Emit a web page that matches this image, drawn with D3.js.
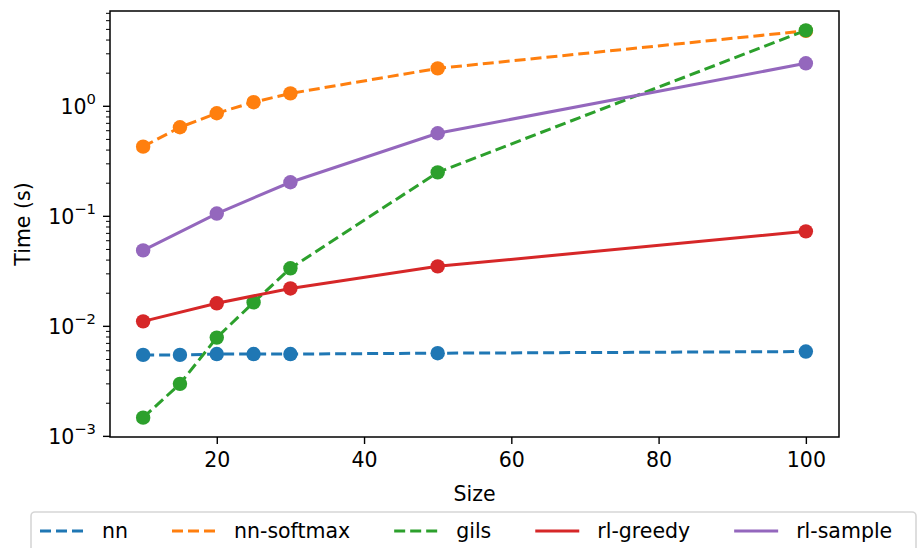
<!DOCTYPE html>
<html>
  <head>
    <meta charset="utf-8">
    <style>
    body { margin: 0; background: #fff; }
    svg { display: block; font-family: "DejaVu Sans", sans-serif; }
    </style>
  </head>
  <body>
    <div id="chart-area"></div>

    <script src="https://d3js.org/d3.v7.min.js"></script>
    <script>
      // data
      const seriesNames = ["nn", "nn-softmax", "gils", "rl-greedy", "rl-sample"];
      const sizesAll = [10, 15, 20, 25, 30, 50, 100];
      const sizesRl = [10, 20, 30, 50, 100];
      const nnTimes = [0.0055, 0.0055, 0.0056, 0.0056, 0.0056, 0.0057, 0.0059];
      const softmaxTimes = [0.43, 0.645, 0.865, 1.09, 1.31, 2.21, 4.85];
      const gilsTimes = [0.00148, 0.0030, 0.0079, 0.0165, 0.0337, 0.251, 4.9];
      const greedyTimes = [0.0111, 0.0162, 0.0221, 0.0351, 0.073];
      const sampleTimes = [0.049, 0.106, 0.204, 0.569, 2.46];
      const xTicks = [20, 40, 60, 80, 100];
      const yTicks = [-3, -2, -1, 0];

      const colors = ["#1f77b4", "#ff7f0e", "#2ca02c", "#d62728", "#9467bd"];
      const dashed = [true, true, true, false, false];

      const series = [
        { x: sizesAll, y: nnTimes },
        { x: sizesAll, y: softmaxTimes },
        { x: sizesAll, y: gilsTimes },
        { x: sizesRl, y: greedyTimes },
        { x: sizesRl, y: sampleTimes }
      ].map((s, i) => ({
        name: seriesNames[i],
        color: colors[i],
        dashed: dashed[i],
        points: s.x.map((x, j) => ({ x: x, y: s.y[j] }))
      }));

      const width = 917;
      const height = 548;
      const margin = { top: 11, right: 78, bottom: 111, left: 110 };
      const plotW = width - margin.left - margin.right;
      const plotH = height - margin.top - margin.bottom;
      const fs = 20.5;

      const svg = d3.select("#chart-area")
        .append("svg")
          .attr("width", width)
          .attr("height", height);

      const g = svg.append("g")
        .attr("transform", `translate(${margin.left}, ${margin.top})`);

      // matplotlib style 5% margins (log space for y)
      const xPad = (100 - 10) * 0.05;
      const x = d3.scaleLinear()
        .domain([10 - xPad, 100 + xPad])
        .range([0, plotW]);

      const allY = series.flatMap(s => s.points.map(p => Math.log10(p.y)));
      const yLo = d3.min(allY), yHi = d3.max(allY);
      const yPad = (yHi - yLo) * 0.05;
      const y = d3.scaleLog()
        .domain([Math.pow(10, yLo - yPad), Math.pow(10, yHi + yPad)])
        .range([plotH, 0]);

      // x axis
      const xAxis = g.append("g")
        .attr("transform", `translate(0, ${plotH})`)
        .call(d3.axisBottom(x).tickValues(xTicks).tickSize(7).tickPadding(8).tickFormat(d3.format("d")));
      xAxis.select(".domain").remove();
      xAxis.selectAll("line").attr("stroke", "#000").attr("stroke-width", 1.4);
      xAxis.selectAll("text").attr("font-size", fs).attr("fill", "#000")
        .attr("font-family", "DejaVu Sans");

      // y axis: minor ticks
      const minor = [];
      for (let e = -4; e <= 1; e++) {
        for (let m = 2; m <= 9; m++) {
          const v = m * Math.pow(10, e);
          if (v >= y.domain()[0] && v <= y.domain()[1]) minor.push(v);
        }
      }
      g.append("g").selectAll("line")
        .data(minor)
        .join("line")
          .attr("x1", -4).attr("x2", 0)
          .attr("y1", d => y(d)).attr("y2", d => y(d))
          .attr("stroke", "#000").attr("stroke-width", 1);

      const yMajor = g.append("g");
      yMajor.selectAll("line")
        .data(yTicks)
        .join("line")
          .attr("x1", -7).attr("x2", 0)
          .attr("y1", d => y(Math.pow(10, d))).attr("y2", d => y(Math.pow(10, d)))
          .attr("stroke", "#000").attr("stroke-width", 1.4);

      const yLab = yMajor.selectAll("text")
        .data(yTicks)
        .join("text")
          .attr("x", -14)
          .attr("y", d => y(Math.pow(10, d)) + 8)
          .attr("text-anchor", "end")
          .attr("font-size", fs)
          .attr("fill", "#000");
      yLab.append("tspan").text("10");
      yLab.append("tspan")
        .attr("font-size", fs * 0.72)
        .attr("dy", -10)
        .text(d => d < 0 ? "\u2212" + (-d) : d);

      // series
      const line = d3.line()
        .x(d => x(d.x))
        .y(d => y(d.y));

      series.forEach(s => {
        const sg = g.append("g");
        sg.append("path")
          .datum(s.points)
          .attr("d", line)
          .attr("fill", "none")
          .attr("stroke", s.color)
          .attr("stroke-width", 3)
          .attr("stroke-dasharray", s.dashed ? "11,5" : null);
        sg.selectAll("circle")
          .data(s.points)
          .join("circle")
            .attr("cx", d => x(d.x))
            .attr("cy", d => y(d.y))
            .attr("r", 7.2)
            .attr("fill", s.color);
      });

      // frame
      g.append("rect")
        .attr("width", plotW)
        .attr("height", plotH)
        .attr("fill", "none")
        .attr("stroke", "#000")
        .attr("stroke-width", 1.5);

      // axis labels
      svg.append("text")
        .attr("x", margin.left + plotW / 2)
        .attr("y", 501)
        .attr("text-anchor", "middle")
        .attr("font-size", fs)
        .text("Size");

      svg.append("text")
        .attr("transform", `translate(30, ${margin.top + plotH / 2}) rotate(-90)`)
        .attr("text-anchor", "middle")
        .attr("font-size", fs)
        .text("Time (s)");

      // legend
      const legend = svg.append("g");
      legend.append("rect")
        .attr("x", 31)
        .attr("y", 512)
        .attr("width", 885)
        .attr("height", 60)
        .attr("rx", 4)
        .attr("fill", "#fff")
        .attr("stroke", "#d6d6d6")
        .attr("stroke-width", 1.6);

      let lx = 40;
      const ly = 531;
      series.forEach(s => {
        legend.append("line")
          .attr("x1", lx).attr("x2", lx + 44)
          .attr("y1", ly).attr("y2", ly)
          .attr("stroke", s.color)
          .attr("stroke-width", 3)
          .attr("stroke-dasharray", s.dashed ? "11,5" : null);
        const t = legend.append("text")
          .attr("x", lx + 62)
          .attr("y", ly + 7)
          .attr("font-size", fs)
          .text(s.name);
        lx += 62 + t.node().getComputedTextLength() + 44;
      });
    </script>
  </body>
</html>
